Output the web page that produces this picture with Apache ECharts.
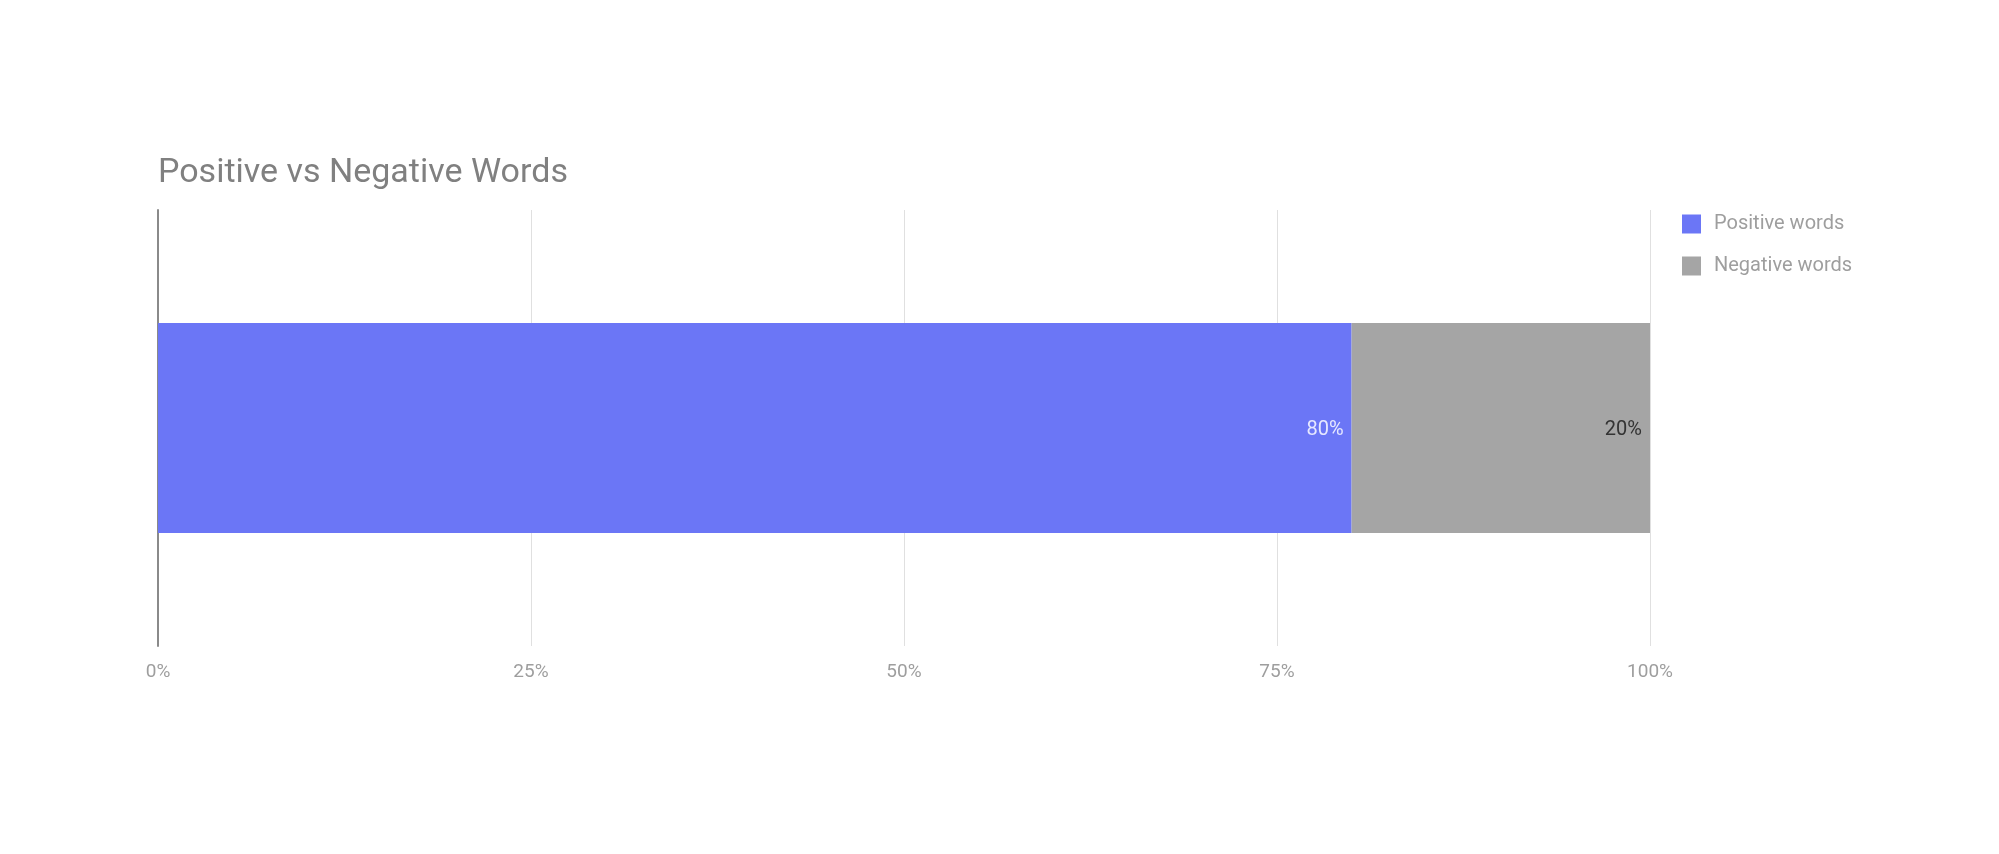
<!DOCTYPE html>
<html>
<head>
<meta charset="utf-8">
<script src="https://cdn.jsdelivr.net/npm/echarts@6/dist/echarts.min.js"></script>
<style>
  html, body { margin: 0; padding: 0; background: #fff; }
  #mychart { width: 1999px; height: 854px; }
</style>
</head>
<body>
<div id="mychart"></div>
<script>
// data
const categories = ["Words"];
const positiveWords = [80];
const negativeWords = [20];
const xTicks = [0, 25, 50, 75, 100];

const chart = echarts.init(document.getElementById("mychart"));
const option = {
  backgroundColor: "#fff",
  textStyle: { fontFamily: "Roboto" },
  title: {
    text: "Positive vs Negative Words",
    left: 153,
    top: 151,
    textStyle: { fontSize: 34, fontWeight: "normal", color: "#808080", fontFamily: "Roboto" }
  },
  legend: {
    orient: "vertical",
    left: 1677,
    top: 209,
    itemWidth: 19,
    itemHeight: 19,
    itemGap: 22,
    icon: "rect",
    textStyle: { fontSize: 20, color: "#9e9e9e", padding: [0, 0, 0, 8] },
    data: ["Positive words", "Negative words"]
  },
  grid: { left: 158, right: 349, top: 210, bottom: 208 },
  xAxis: {
    type: "value",
    min: xTicks[0],
    max: xTicks[xTicks.length - 1],
    interval: 25,
    axisLine: { show: false },
    axisTick: { show: false },
    splitLine: { lineStyle: { color: "#e0e0e0", width: 1 } },
    axisLabel: { formatter: "{value}%", fontSize: 19, color: "#9e9e9e", margin: 17 }
  },
  yAxis: {
    type: "category",
    data: categories,
    axisLine: { show: true, lineStyle: { color: "#8a8a8a", width: 2 } },
    axisTick: { show: false },
    axisLabel: { show: false }
  },
  series: [
    {
      name: "Positive words",
      type: "bar",
      stack: "total",
      barWidth: 210,
      data: positiveWords,
      itemStyle: { color: "#6b76f6" },
      label: {
        show: true,
        position: "insideRight",
        formatter: "{c}%",
        fontSize: 20,
        color: "#e6e8ff",
        distance: 8,
        offset: [0, 2]
      }
    },
    {
      name: "Negative words",
      type: "bar",
      stack: "total",
      barWidth: 210,
      data: negativeWords,
      itemStyle: { color: "#a5a5a5" },
      label: {
        show: true,
        position: "insideRight",
        formatter: "{c}%",
        fontSize: 20,
        color: "#333",
        distance: 8,
        offset: [0, 2]
      }
    }
  ]
};
chart.setOption(option);
</script>
</body>
</html>
